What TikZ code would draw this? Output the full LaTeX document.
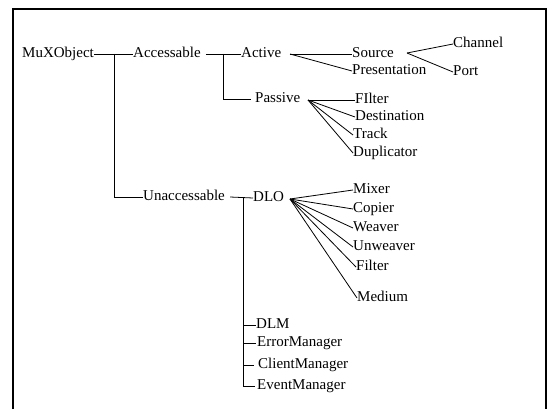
\documentclass[tikz,border=0pt]{standalone}
\usepackage{fontspec}
\setmainfont{Liberation Serif}
\begin{document}
\begin{tikzpicture}[x=1pt,y=-1pt,
  lbl/.style={anchor=west,inner sep=0pt,text height=10pt,text depth=3pt,font=\fontsize{15}{17}\selectfont},
  conn/.style={line width=0.8pt},
  frame/.style={line width=1.2pt}]
\useasboundingbox (0,0) rectangle (553,409);
\draw[frame] (13,409) -- (13,9) -- (546,9) -- (546,409);

% nodes
\node[lbl] (mux) at (22,54) {MuXObject};
\node[lbl] (acc) at (133,54) {Accessable};
\node[lbl] (act) at (241,54) {Active};
\node[lbl] (src) at (352,54) {Source};
\node[lbl] (pres) at (352,71) {Presentation};
\node[lbl] (chan) at (453,44) {Channel};
\node[lbl] (port) at (453,72) {Port};
\node[lbl] (pas) at (255,99) {Passive};
\node[lbl] (fila) at (355,100) {FIlter};
\node[lbl] (dest) at (355,117) {Destination};
\node[lbl] (track) at (353,135) {Track};
\node[lbl] (dup) at (353,153) {Duplicator};
\node[lbl] (unacc) at (143,197) {Unaccessable};
\node[lbl] (dlo) at (253,198) {DLO};
\node[lbl] (mixer) at (353,190) {Mixer};
\node[lbl] (copier) at (353,209) {Copier};
\node[lbl] (weaver) at (353,228) {Weaver};
\node[lbl] (unweaver) at (353,247) {Unweaver};
\node[lbl] (filb) at (356,267) {Filter};
\node[lbl] (medium) at (357,298) {Medium};
\node[lbl] (dlm) at (256,325) {DLM};
\node[lbl] (errm) at (257,343) {ErrorManager};
\node[lbl] (clim) at (258,365) {ClientManager};
\node[lbl] (evm) at (257,386) {EventManager};

% junction points
\coordinate (t1) at (114,54);
\coordinate (t2) at (223,54);
\coordinate (t3) at (243,198);
\coordinate (f1) at (290,54);
\coordinate (f2) at (407,53);
\coordinate (f3) at (308,100);
\coordinate (f4) at (290,199);

% connectors
\draw[conn] (mux.east) -- (acc.west);
\draw[conn] (t1) |- (unacc.west);
\draw[conn] ([xshift=5pt]acc.east) -- (act.west);
\draw[conn] (t2) |- ([xshift=-4pt]pas.west);
\draw[conn] (f1) -- (src.west);
\draw[conn] (f1) -- (pres.west);
\draw[conn] (f2) -- (chan.west);
\draw[conn] (f2) -- (port.west);
\foreach \n in {fila,dest,track,dup} \draw[conn] (f3) -- (\n.west);
\draw[conn] ([xshift=5pt]unacc.east) -- (dlo.west);
\foreach \n in {mixer,copier,weaver,unweaver,filb,medium} \draw[conn] (f4) -- (\n.west);
\draw[conn] (t3) |- ([xshift=-2pt]evm.west);
\draw[conn] (t3 |- dlm.west) -- (dlm.west);
\draw[conn] (t3 |- errm.west) -- ([xshift=-1pt]errm.west);
\draw[conn] (t3 |- clim.west) -- ([xshift=-4pt]clim.west);
\end{tikzpicture}
\end{document}
